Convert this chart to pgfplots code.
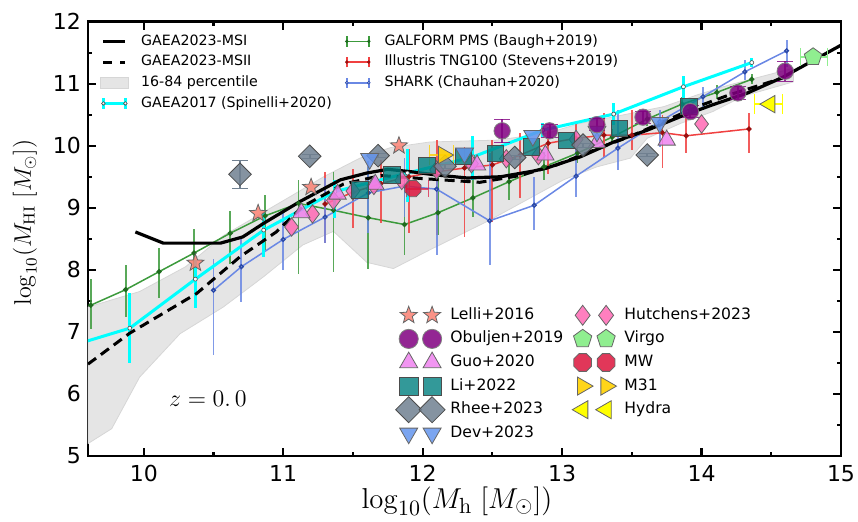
\documentclass[border=0pt]{standalone}
\usepackage[no-math]{fontspec}
\setmainfont{DejaVu Sans}
\usepackage{pgfplots}
\pgfplotsset{compat=1.18}
\usepackage{pgfplotstable}
\usetikzlibrary{plotmarks}

\definecolor{lellic}{HTML}{FA8072}
\definecolor{obuc}{HTML}{800080}
\definecolor{guoc}{HTML}{EE82EE}
\definecolor{lic}{HTML}{008080}
\definecolor{rheec}{HTML}{708090}
\definecolor{devc}{HTML}{6495ED}
\definecolor{hutc}{HTML}{FF69B4}
\definecolor{virc}{HTML}{90EE90}
\definecolor{mwc}{HTML}{DC143C}
\definecolor{m31c}{HTML}{FFD000}
\definecolor{hydc}{HTML}{FFFF00}
\definecolor{galline}{HTML}{3C9A3C}
\definecolor{galdot}{HTML}{1F6B1F}
\definecolor{tngline}{HTML}{F04040}
\definecolor{tngdot}{HTML}{9B1010}
\definecolor{shline}{HTML}{6A88E4}
\definecolor{shdot}{HTML}{2C4AA8}
\definecolor{cyanc}{HTML}{00FFFF}

\pgfdeclareplotmark{fstar}{%
  \pgfpathmoveto{\pgfqpointpolar{90}{\pgfplotmarksize}}%
  \pgfpathlineto{\pgfqpointpolar{126}{0.42\pgfplotmarksize}}%
  \pgfpathlineto{\pgfqpointpolar{162}{\pgfplotmarksize}}%
  \pgfpathlineto{\pgfqpointpolar{198}{0.42\pgfplotmarksize}}%
  \pgfpathlineto{\pgfqpointpolar{234}{\pgfplotmarksize}}%
  \pgfpathlineto{\pgfqpointpolar{270}{0.42\pgfplotmarksize}}%
  \pgfpathlineto{\pgfqpointpolar{306}{\pgfplotmarksize}}%
  \pgfpathlineto{\pgfqpointpolar{342}{0.42\pgfplotmarksize}}%
  \pgfpathlineto{\pgfqpointpolar{18}{\pgfplotmarksize}}%
  \pgfpathlineto{\pgfqpointpolar{54}{0.42\pgfplotmarksize}}%
  \pgfpathclose\pgfusepathqfillstroke}
\pgfdeclareplotmark{foct}{%
  \pgfpathmoveto{\pgfqpointpolar{22.5}{\pgfplotmarksize}}%
  \pgfpathlineto{\pgfqpointpolar{67.5}{\pgfplotmarksize}}%
  \pgfpathlineto{\pgfqpointpolar{112.5}{\pgfplotmarksize}}%
  \pgfpathlineto{\pgfqpointpolar{157.5}{\pgfplotmarksize}}%
  \pgfpathlineto{\pgfqpointpolar{202.5}{\pgfplotmarksize}}%
  \pgfpathlineto{\pgfqpointpolar{247.5}{\pgfplotmarksize}}%
  \pgfpathlineto{\pgfqpointpolar{292.5}{\pgfplotmarksize}}%
  \pgfpathlineto{\pgfqpointpolar{337.5}{\pgfplotmarksize}}%
  \pgfpathclose\pgfusepathqfillstroke}

\newcommand{\lbb}{\path[draw=none, fill=none] (0pt,-5.175pt) rectangle (11pt,5.175pt);}
\newcommand{\lineimg}[1]{\draw[overlay,#1] (0pt,0pt) -- (11pt,0pt); \lbb}
\newcommand{\errimg}[5]{%
  \draw[overlay,#2] (0pt,-2.6pt) -- (0pt,2.6pt) (11pt,-2.6pt) -- (11pt,2.6pt);
  \draw[overlay,#1] (0pt,0pt) -- (11pt,0pt);
  \draw[overlay, fill=#3, draw=#4, line width=0.3pt] (0pt,0pt) circle (#5) (11pt,0pt) circle (#5);
  \lbb}
\newcommand{\obsimg}[1]{\draw[overlay] plot[only marks, #1] coordinates {(0pt,0pt) (11.7pt,0pt)}; \path[draw=none, fill=none] (0pt,-5.9pt) rectangle (11.7pt,5.9pt);}

% ---------------- model data ----------------
\pgfplotstableread{
x y
9.94 8.61
10.14 8.43
10.55 8.43
10.71 8.53
10.86 8.75
11.12 9.10
11.41 9.45
11.60 9.56
11.75 9.62
11.92 9.58
12.09 9.53
12.32 9.48
12.56 9.50
12.79 9.59
12.89 9.64
13.13 9.82
13.37 10.06
13.61 10.25
13.85 10.47
14.08 10.66
14.33 10.85
14.58 11.10
15.00 11.62
}\msi
\pgfplotstableread{
x y
9.60 6.48
9.90 6.98
10.38 7.62
10.69 8.21
10.95 8.61
11.14 9.02
11.43 9.38
11.70 9.52
12.00 9.47
12.41 9.41
12.70 9.52
12.96 9.69
13.32 10.01
13.49 10.15
13.97 10.63
14.20 10.82
14.58 11.09
}\msii
\pgfplotstableread{
x y ep em
9.40 6.72 0.48 0.42
9.90 7.06 0.56 0.56
10.37 7.85 0.31 0.47
10.86 8.64 0.27 0.43
11.37 9.26 0.19 0.43
11.89 9.56 0.39 0.46
12.36 9.82 0.33 0.37
12.86 10.25 0.12 0.11
13.37 10.51 0.18 0.17
13.87 10.95 0.17 0.18
14.36 11.34 0.07 0.07
}\gaeaold
\pgfplotstableread{
x y ep em
9.62 7.43 0.42 0.38
9.87 7.68 0.40 0.44
10.11 7.97 0.38 0.43
10.36 8.27 0.38 0.44
10.62 8.59 0.35 0.49
10.87 8.87 0.33 0.55
11.11 9.07 0.38 1.13
11.36 8.96 0.62 0.99
11.61 8.84 0.82 0.82
11.87 8.73 0.85 0.49
12.11 8.92 0.58 0.36
12.36 9.16 0.50 0.31
12.62 9.42 0.40 0.30
12.87 9.66 0.24 0.21
13.11 9.88 0.17 0.16
13.36 10.14 0.13 0.12
13.61 10.43 0.12 0.11
13.86 10.67 0.11 0.09
14.11 10.86 0.12 0.10
14.36 11.07 0.08 0.07
}\galform
\pgfplotstableread{
x y ep em
11.30 9.06 0.52 0.63
11.50 9.25 0.37 0.58
11.70 9.39 0.38 0.64
11.90 9.50 0.45 0.90
12.10 9.58 0.51 1.02
12.30 9.64 0.34 1.11
12.50 9.69 0.41 0.92
12.70 9.85 0.35 0.70
12.90 10.04 0.26 0.49
13.10 10.12 0.26 0.37
13.30 10.17 0.35 0.37
13.50 10.17 0.41 0.24
13.72 10.21 0.29 0.57
13.89 10.16 0.42 0.28
14.34 10.27 0.25 0.39
}\tng
\pgfplotstableread{
x y ep em
10.50 7.67 0.51 1.05
10.70 8.05 0.46 0.57
11.00 8.49 0.42 0.50
11.30 8.85 0.63 0.42
11.61 9.24 0.51 0.64
11.87 9.35 0.45 0.50
12.10 9.30 0.34 1.06
12.48 8.79 1.10 0.71
12.80 9.04 0.46 0.40
13.10 9.51 0.74 0.33
13.40 9.96 0.62 0.35
13.70 10.39 0.19 0.41
14.01 10.79 0.16 0.16
14.31 11.19 0.19 0.13
14.61 11.53 0.17 0.26
}\shark

\begin{document}
\begin{tikzpicture}
\begin{axis}[
  at={(0,0)}, anchor=south west,
  scale only axis, width=376.5pt, height=217.2pt,
  xmin=9.6, xmax=15, ymin=5, ymax=12,
  xtick={10,11,12,13,14,15}, ytick={5,6,7,8,9,10,11,12},
  minor xtick={10.5,11.5,12.5,13.5,14.5},
  minor ytick={5.5,6.5,7.5,8.5,9.5,10.5,11.5},
  tick align=inside, tick pos=both,
  major tick length=4pt, minor tick length=2pt,
  axis line style={line width=1.2pt},
  every tick/.style={black, line width=1.1pt},
  /pgf/number format/assume math mode=true,
  tick label style={font=\fontsize{11}{13}\selectfont},
  xticklabel style={yshift=-1pt},
  xlabel={$\log_{10}(M_{\mathrm{h}}\;[M_{\odot}])$},
  ylabel={$\log_{10}(M_{\mathrm{HI}}\;[M_{\odot}])$},
  xlabel style={font=\fontsize{15.5}{18}\selectfont, inner sep=0pt, at={(axis description cs:0.49,-0.104)}, anchor=center},
  ylabel style={font=\fontsize{12}{14}\selectfont, at={(axis description cs:-0.0837,0.538)}, anchor=center},
  legend columns=2, legend cell align=left,
  legend style={at={(rel axis cs:0,1)}, anchor=north west, xshift=7.5pt, yshift=-4.5pt,
    draw=none, fill=none, inner sep=0pt, row sep=0pt,
    font=\fontsize{7.1}{8.5}\selectfont,
    nodes={inner sep=0pt, text height=5.4pt, text depth=1.7pt},
    /tikz/every odd column/.append style={column sep=7.85pt},
    /tikz/every even column/.append style={column sep=7.5pt}},
]
% percentile band
\addplot[fill=black!10, draw=black!16, line width=0.4pt, forget plot] coordinates {
(9.6,7.40) (9.97,7.65) (10.3,8.05) (10.57,8.55) (11.05,9.18) (11.29,9.50) (11.55,9.80)
(11.77,9.97) (12.05,10.06) (12.53,10.09) (12.89,10.20) (13.13,10.36) (13.49,10.52)
(13.73,10.63) (13.97,10.82) (14.20,10.98) (14.66,11.25)
(14.66,11.03) (14.30,10.80) (14.08,10.55) (13.85,10.36) (13.61,10.12) (13.49,9.80)
(13.25,9.66) (13.01,9.45) (12.48,8.80) (12.05,8.32) (11.79,8.02) (11.60,8.12)
(11.36,8.62) (11.14,8.40) (10.86,7.89) (10.57,7.40) (10.26,6.97) (9.97,6.27)
(9.77,5.44) (9.6,5.2)} -- cycle;
% GALFORM
\addplot[galline, line width=0.75pt, mark=*, mark size=0.9pt, mark options={fill=galdot, draw=galdot},
  forget plot, error bars/.cd, y dir=both, y explicit, error mark=none,
  error bar style={color=galline, opacity=0.85, line width=0.9pt}]
  table[x=x, y=y, y error plus=ep, y error minus=em] {\galform};
% Illustris TNG100
\addplot[tngline, line width=0.75pt, mark=*, mark size=0.9pt, mark options={fill=tngdot, draw=tngdot},
  forget plot, error bars/.cd, y dir=both, y explicit, error mark=none,
  error bar style={color=tngline, opacity=0.85, line width=0.9pt}]
  table[x=x, y=y, y error plus=ep, y error minus=em] {\tng};
% SHARK
\addplot[shline, line width=0.75pt, mark=*, mark size=0.9pt, mark options={fill=shline!60, draw=shdot},
  forget plot, error bars/.cd, y dir=both, y explicit, error mark=none,
  error bar style={color=shline, opacity=0.85, line width=0.9pt}]
  table[x=x, y=y, y error plus=ep, y error minus=em] {\shark};
% GAEA2017
\addplot[cyanc, line width=1.5pt, mark=*, mark size=1pt, mark options={fill=white, draw=black!70, line width=0.3pt},
  forget plot, error bars/.cd, y dir=both, y explicit, error mark=none,
  error bar style={color=cyanc, line width=1.4pt}]
  table[x=x, y=y, y error plus=ep, y error minus=em] {\gaeaold};
% GAEA2023
\addplot[black, line width=1.6pt, forget plot] table[x=x,y=y] {\msi};
\addplot[black, line width=1.5pt, dash pattern=on 5pt off 3pt, forget plot] table[x=x,y=y] {\msii};

\node[font=\fontsize{13}{15}\selectfont] at (axis cs:10.46,5.93) {$z=0.\,0$};

% legend (row-major order of a 2-column legend)
\addlegendimage{legend image code/.code={\lineimg{black, line width=1.6pt}}}
\addlegendentry{GAEA2023-MSI}
\addlegendimage{legend image code/.code={\errimg{galline, line width=0.75pt}{galline, line width=1pt}{galdot}{galdot}{0.7pt}}}
\addlegendentry{GALFORM PMS (Baugh+2019)}
\addlegendimage{legend image code/.code={\draw[overlay, black, line width=1.5pt] (0pt,0pt) -- (4.5pt,0pt) (8.5pt,0pt) -- (11pt,0pt); \lbb}}
\addlegendentry{GAEA2023-MSII}
\addlegendimage{legend image code/.code={\errimg{tngline, line width=0.75pt}{tngline, line width=1pt}{tngdot}{tngdot}{0.7pt}}}
\addlegendentry{Illustris TNG100 (Stevens+2019)}
\addlegendimage{legend image code/.code={\path[overlay, fill=black!10, draw=black!16] (-1.7pt,-2.9pt) rectangle (12.7pt,2.9pt); \lbb}}
\addlegendentry{16-84 percentile}
\addlegendimage{legend image code/.code={\errimg{shline, line width=0.75pt}{shline, line width=1pt}{shline!60}{shdot}{0.7pt}}}
\addlegendentry{SHARK (Chauhan+2020)}
\addlegendimage{legend image code/.code={\errimg{cyanc, line width=1.5pt}{cyanc, line width=1.4pt}{white}{black!70}{0.9pt}}}
\addlegendentry{GAEA2017 (Spinelli+2020)}
\end{axis}

\begin{axis}[
  at={(0,0)}, anchor=south west,
  scale only axis, width=376.5pt, height=217.2pt,
  xmin=9.6, xmax=15, ymin=5, ymax=12, hide axis,
  legend columns=2, legend cell align=left,
  legend style={at={(rel axis cs:0,1)}, anchor=north west, xshift=160.15pt, yshift=-140.75pt,
    draw=none, fill=none, inner sep=0pt, row sep=0pt,
    font=\fontsize{7.8}{9}\selectfont,
    nodes={inner sep=0pt, text height=5.85pt, text depth=1.85pt},
    /tikz/every odd column/.append style={column sep=9.15pt},
    /tikz/every even column/.append style={column sep=9.65pt}},
]
% Lelli+2016
\addplot[only marks, mark=fstar, mark size=4.5pt, mark options={fill=lellic, draw=black!60, line width=0.4pt, fill opacity=0.85}, forget plot]
  coordinates {(10.37,8.11) (10.82,8.91) (11.20,9.33) (11.83,10.00)};
% Hutchens+2023
\addplot[only marks, mark=diamond*, mark size=4.6pt, mark options={fill=hutc, draw=black!60, line width=0.4pt, fill opacity=0.85}, forget plot]
  coordinates {(11.06,8.69) (11.21,8.90) (11.36,9.12) (11.50,9.27) (11.65,9.36) (11.85,9.44) (12.10,9.61) (12.35,9.71) (12.60,9.79) (12.83,9.84) (13.10,10.10) (14.00,10.35)};
% Guo+2020
\addplot[only marks, mark=triangle*, mark size=5pt, mark options={fill=guoc, draw=black!60, line width=0.4pt, fill opacity=0.85}, forget plot]
  coordinates {(11.13,8.92) (11.39,9.22) (11.66,9.38) (12.39,9.69) (12.88,9.85) (13.25,10.05) (13.75,10.09)};
% Li+2022
\addplot[only marks, mark=square*, mark size=4.1pt, mark options={fill=lic, draw=black!70, line width=0.4pt, fill opacity=0.8}, forget plot]
  coordinates {(11.55,9.29) (11.78,9.53) (12.03,9.68) (12.29,9.83) (12.52,9.88) (12.78,9.98) (13.03,10.09) (13.41,10.28) (13.91,10.63)};
% Rhee+2023
\addplot[only marks, mark=square*, mark size=4pt, mark options={rotate=45, fill=rheec, draw=black!70, line width=0.4pt, fill opacity=0.85}, forget plot,
  error bars/.cd, y dir=both, y explicit, error bar style={color=rheec, line width=1pt}]
  coordinates {(10.69,9.54) +- (0,0.23) (11.19,9.83) +- (0,0.03) (11.68,9.84) +- (0,0.03) (12.16,9.67) +- (0,0.03) (12.66,9.81) +- (0,0.03) (13.15,10.01) +- (0,0.03) (13.61,9.85) +- (0,0.03)};
% Dev+2023
\addplot[only marks, mark=triangle*, mark size=5.2pt, mark options={rotate=180, fill=devc, draw=black!60, line width=0.4pt, fill opacity=0.85}, forget plot]
  coordinates {(11.62,9.79) (12.30,9.88) (12.79,10.16) (13.25,10.23) (13.70,10.37)};
% Obuljen+2019
\addplot[only marks, mark=*, mark size=4.1pt, mark options={fill=obuc, draw=black!50, line width=0.4pt, fill opacity=0.85}, forget plot,
  error bars/.cd, y dir=both, y explicit, error bar style={color=obuc, line width=1pt, opacity=0.8}]
  coordinates {(12.57,10.24) +- (0,0.19) (12.91,10.24) +- (0,0.1) (13.25,10.34) +- (0,0.1) (13.58,10.46) +- (0,0.1) (13.92,10.55) +- (0,0.1) (14.26,10.85) +- (0,0.1) (14.60,11.20) +- (0,0.16)};
% Virgo
\addplot[only marks, mark=pentagon*, mark size=4.6pt, mark options={fill=virc, draw=black!60, line width=0.4pt}, forget plot,
  error bars/.cd, x dir=both, x explicit, error bar style={color=virc, line width=1pt}]
  coordinates {(14.80,11.43) += (0.10,0) -= (0.09,0)};
% MW
\addplot[only marks, mark=foct, mark size=4.4pt, mark options={fill=mwc, draw=black!60, line width=0.4pt, fill opacity=0.85}, forget plot,
  error bars/.cd, x dir=both, x explicit, error bar style={color=mwc, line width=1pt, opacity=0.7}]
  coordinates {(11.93,9.31) += (0.11,0) -= (0.05,0)};
% M31
\addplot[only marks, mark=triangle*, mark size=5pt, mark options={rotate=-90, fill=m31c, draw=black!60, line width=0.4pt, fill opacity=0.9}, forget plot,
  error bars/.cd, x dir=both, x explicit, error bar style={color=m31c, line width=1pt, opacity=0.8}]
  coordinates {(12.15,9.85) += (0.07,0) -= (0.10,0)};
% Hydra
\addplot[only marks, mark=triangle*, mark size=5pt, mark options={rotate=90, fill=hydc, draw=black!60, line width=0.4pt}, forget plot,
  error bars/.cd, x dir=both, x explicit, error bar style={color=hydc, line width=1pt}]
  coordinates {(14.49,10.67) += (0.09,0) -= (0.11,0)};

\addlegendimage{legend image code/.code={\obsimg{mark=fstar, mark size=4.5pt, mark options={fill=lellic, draw=black!60, line width=0.4pt, fill opacity=0.85}}}}
\addlegendentry{Lelli+2016}
\addlegendimage{legend image code/.code={\obsimg{mark=diamond*, mark size=5pt, mark options={fill=hutc, draw=black!60, line width=0.4pt, fill opacity=0.85}}}}
\addlegendentry{Hutchens+2023}
\addlegendimage{legend image code/.code={\obsimg{mark=*, mark size=4.8pt, mark options={fill=obuc, draw=black!50, line width=0.4pt, fill opacity=0.85}}}}
\addlegendentry{Obuljen+2019}
\addlegendimage{legend image code/.code={\obsimg{mark=pentagon*, mark size=4.8pt, mark options={fill=virc, draw=black!60, line width=0.4pt}}}}
\addlegendentry{Virgo}
\addlegendimage{legend image code/.code={\obsimg{mark=triangle*, mark size=5.2pt, mark options={fill=guoc, draw=black!60, line width=0.4pt, fill opacity=0.85}}}}
\addlegendentry{Guo+2020}
\addlegendimage{legend image code/.code={\obsimg{mark=foct, mark size=4.8pt, mark options={fill=mwc, draw=black!60, line width=0.4pt, fill opacity=0.85}}}}
\addlegendentry{MW}
\addlegendimage{legend image code/.code={\obsimg{mark=square*, mark size=4.6pt, mark options={fill=lic, draw=black!70, line width=0.4pt, fill opacity=0.8}}}}
\addlegendentry{Li+2022}
\addlegendimage{legend image code/.code={\obsimg{mark=triangle*, mark size=5.2pt, mark options={rotate=-90, fill=m31c, draw=black!60, line width=0.4pt, fill opacity=0.9}}}}
\addlegendentry{M31}
\addlegendimage{legend image code/.code={\obsimg{mark=square*, mark size=4.6pt, mark options={rotate=45, fill=rheec, draw=black!70, line width=0.4pt, fill opacity=0.85}}}}
\addlegendentry{Rhee+2023}
\addlegendimage{legend image code/.code={\obsimg{mark=triangle*, mark size=5.2pt, mark options={rotate=90, fill=hydc, draw=black!60, line width=0.4pt}}}}
\addlegendentry{Hydra}
\addlegendimage{legend image code/.code={\obsimg{mark=triangle*, mark size=5.2pt, mark options={rotate=180, fill=devc, draw=black!60, line width=0.4pt, fill opacity=0.85}}}}
\addlegendentry{Dev+2023}
\end{axis}
\pgfresetboundingbox
\path[use as bounding box] (-44pt,-33pt) rectangle (385pt,228pt);
\end{tikzpicture}
\end{document}
